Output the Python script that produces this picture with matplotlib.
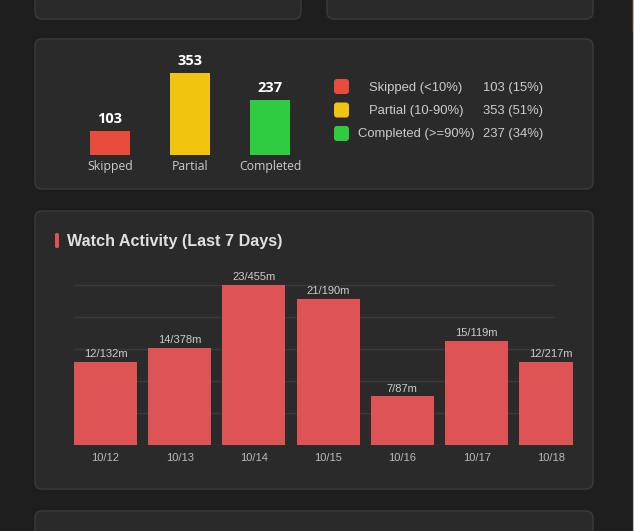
import numpy as np
import matplotlib
matplotlib.use("Agg")
import matplotlib.pyplot as plt
from matplotlib.patches import FancyBboxPatch

# completion breakdown
comp_cats = ["Skipped", "Partial", "Completed"]
comp_legend = ["Skipped (<10%)", "Partial (10-90%)", "Completed (>=90%)"]
comp_counts = [103, 353, 237]
comp_pct = [15, 51, 34]
comp_colors = ["#e74c3c", "#f1c40f", "#2ecc40"]

# watch activity, last 7 days
days = ["10/12", "10/13", "10/14", "10/15", "10/16", "10/17", "10/18"]
plays = [12, 14, 23, 21, 7, 15, 12]
minutes = [132, 378, 455, 190, 87, 119, 217]

W, H = 634, 531
BG = "#1e1e1e"
PANEL = "#2a2a2a"
EDGE = "#3b3b3b"

fig = plt.figure(figsize=(W / 100, H / 100), dpi=100, facecolor=BG)


def px_axes(x0, y0, x1, y1):
    # axes placed by pixel box (top-left origin)
    return fig.add_axes([x0 / W, 1 - y1 / H, (x1 - x0) / W, (y1 - y0) / H])


bg = fig.add_axes([0, 0, 1, 1])
bg.set_xlim(0, W)
bg.set_ylim(H, 0)
bg.axis("off")
bg.set_facecolor(BG)


def panel(x0, y0, x1, y1):
    bg.add_patch(FancyBboxPatch((x0, y0), x1 - x0, y1 - y0,
                                boxstyle="round,pad=0,rounding_size=7",
                                fc=PANEL, ec=EDGE, lw=1))


panel(35, -20, 301, 19)
panel(327, -20, 593, 19)
panel(35, 39, 593, 189)
panel(35, 211, 593, 489)
panel(35, 511, 593, 560)
# window edge on the right
bg.plot([633.3, 633.3], [0, 30], color="#c9b98c", lw=1.0)
bg.plot([633.3, 633.3], [30, H], color="#bdbdbd", lw=0.8)

# ---- completion bars
ax1 = px_axes(70, 40, 310, 155)
ax1.set_xlim(-0.5, 2.5)
ax1.set_ylim(0, 115 / 0.231)
ax1.axis("off")
x1 = np.arange(len(comp_cats))
ax1.bar(x1, comp_counts, width=0.5, color=comp_colors)
for xi, v, c in zip(x1, comp_counts, comp_cats):
    ax1.annotate(str(v), (xi, v), xytext=(0, 4), textcoords="offset points",
                 ha="center", va="bottom", color="white", fontsize=10.5,
                 fontweight="bold", family="Open Sans")
    ax1.annotate(c, (xi, 0), xytext=(0, -3.5), textcoords="offset points",
                 ha="center", va="top", color="#cccccc", fontsize=8.8,
                 family="Open Sans")

# legend rows
for i, (lab, v, p, c) in enumerate(zip(comp_legend, comp_counts, comp_pct, comp_colors)):
    yc = 86.5 + i * 23.5
    bg.add_patch(FancyBboxPatch((334, yc - 7.5), 15, 15,
                                boxstyle="round,pad=0,rounding_size=3",
                                fc=c, ec="none"))
    bg.text(416, yc + 1, lab, ha="center", va="center", color="#cccccc",
            fontsize=9.4, family="Liberation Sans")
    bg.text(483, yc + 1, f"{v} ({p}%)", ha="left", va="center", color="#cccccc",
            fontsize=9.4, family="Liberation Sans")

# ---- watch activity
bg.add_patch(FancyBboxPatch((55, 233), 4, 15, boxstyle="round,pad=0,rounding_size=1.5",
                            fc="#e05252", ec="none"))
bg.text(67, 241.5, "Watch Activity (Last 7 Days)", ha="left", va="center",
        color="#e0e0e0", fontsize=11.6, fontweight="bold", family="Liberation Sans")

pitch = 74.2
scale = 160 / 23
left = -0.425
ax2 = px_axes(74, 260, 573, 445)
ax2.set_xlim(left, left + 499 / pitch)
ax2.set_ylim(0, 185 / scale)
ax2.set_facecolor("none")
for s in ax2.spines.values():
    s.set_visible(False)
x2 = np.arange(len(days))
ax2.hlines(np.linspace(0, 23, 6), left, left + 480 / pitch, color="#3a3a3a", lw=1, zorder=0)
ax2.bar(x2, plays, width=63 / pitch, color="#de5454", zorder=2)
for xi, n, m in zip(x2, plays, minutes):
    ax2.annotate(f"{n}/{m}m", (xi, n), xytext=(0, 2), textcoords="offset points",
                 ha="center", va="bottom", color="#cccccc", fontsize=8,
                 family="Liberation Sans", annotation_clip=False)
ax2.set_yticks([])
ax2.set_xticks(x2)
ax2.set_xticklabels(days, family="Liberation Sans", fontsize=8, color="#bbbbbb")
ax2.tick_params(axis="x", length=0, pad=6)

fig.savefig("out.png", dpi=100, facecolor=BG)
